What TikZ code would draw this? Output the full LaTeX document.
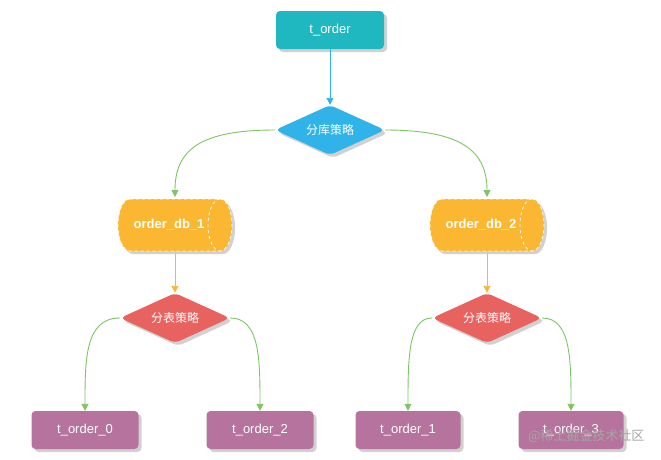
\documentclass[tikz,border=0pt]{standalone}
\usepackage{fontspec}
\setmainfont{Liberation Sans}
\newfontfamily\cjk{Noto Sans CJK SC}
\usetikzlibrary{shapes.geometric,arrows.meta,shadows}
\definecolor{cteal}{HTML}{1FB8C0}
\definecolor{cblue}{HTML}{2FB3E8}
\definecolor{corange}{HTML}{FBB731}
\definecolor{cred}{HTML}{E8635F}
\definecolor{cpurp}{HTML}{B5739D}
\definecolor{cgreen}{HTML}{7DC464}
\tikzset{
 shad/.style={drop shadow={shadow xshift=3pt,shadow yshift=-3pt,fill=black!30,opacity=.6}},
 boxn/.style={rounded corners=4pt,minimum width=#1,minimum height=38pt,text=white,font=\fontsize{13}{15}\selectfont,inner sep=0pt},
 dia/.style={diamond,aspect=2.2,minimum width=110pt,minimum height=50pt,inner sep=0pt,rounded corners=5pt,text=white,font=\cjk\fontsize{12}{14}\selectfont},
 cyltxt/.style={text=white,font=\bfseries\fontsize{13}{15}\selectfont,inner sep=0pt,minimum width=114pt,minimum height=52pt},
 garr/.style={draw=cgreen,line width=0.9pt,-{Triangle[length=7pt,width=7pt]}},
 oarr/.style={draw=corange,line width=0.9pt,-{Triangle[length=7pt,width=7pt]}},
}
\newcommand{\mycyl}[2]{%
 \fill[black!30,opacity=.6,shift={(3,3)}] (#1-45,199) -- (#1+45,199) arc[start angle=-90,end angle=90,x radius=12,y radius=26] -- (#1-45,251) arc[start angle=90,end angle=270,x radius=12,y radius=26] -- cycle;
 \fill[corange] (#1-45,199) -- (#1+45,199) arc[start angle=-90,end angle=90,x radius=12,y radius=26] -- (#1-45,251) arc[start angle=90,end angle=270,x radius=12,y radius=26] -- cycle;
 \draw[white,dashed,line width=0.7pt] (#1-45,199) -- (#1+45,199) arc[start angle=-90,end angle=90,x radius=12,y radius=26] -- (#1-45,251) arc[start angle=90,end angle=270,x radius=12,y radius=26] -- cycle;
 \draw[white,dashed,line width=0.7pt] (#1+45,199) arc[start angle=-90,end angle=-270,x radius=12,y radius=26];
}
\begin{document}
\begin{tikzpicture}[x=1pt,y=-1pt]
\useasboundingbox (0,0) rectangle (661,459);
\mycyl{175}{}
\mycyl{487}{}
\node[cyltxt,xshift=-6pt] (db1) at (175,225) {order\_db\_1};
\node[cyltxt,xshift=-6pt] (db2) at (487,225) {order\_db\_2};
\node[boxn=108pt,fill=cteal,shad] (top) at (330,30) {t\_order};
\node[dia,fill=cblue,shad] (d0) at (330,130) {分库策略};
\node[dia,fill=cred,shad] (d1) at (175,318) {分表策略};
\node[dia,fill=cred,shad] (d2) at (487,318) {分表策略};
\node[boxn=107pt,fill=cpurp,shad] (b0) at (85,430) {t\_order\_0};
\node[boxn=107pt,fill=cpurp,shad] (b2) at (260,430) {t\_order\_2};
\node[boxn=105pt,fill=cpurp,shad] (b1) at (408,430) {t\_order\_1};
\node[boxn=105pt,fill=cpurp,shad] (b3) at (571,430) {t\_order\_3};
\coordinate (c1) at (175,197);
\coordinate (c2) at (487,197);
\coordinate (c1b) at (175,253);
\coordinate (c2b) at (487,253);
\draw[line width=0.9pt,draw=cblue,-{Triangle[length=7pt,width=7pt]}] (top.south) -- (d0.north);
\draw[garr] (d0.west) .. controls (200,130) and (175,150) .. (c1);
\draw[garr] (d0.east) .. controls (460,130) and (487,150) .. (c2);
\draw[oarr] (c1b) -- (d1.north);
\draw[oarr] (c2b) -- (d2.north);
\draw[garr] (d1.west) .. controls (85,318) and (85,360) .. (b0.north);
\draw[garr] (d1.east) .. controls (260,318) and (260,360) .. (b2.north);
\draw[garr] (d2.west) .. controls (408,318) and (408,360) .. (b1.north);
\draw[garr] (d2.east) .. controls (571,318) and (571,360) .. (b3.north);
\node[text=black!35,font=\cjk\fontsize{13}{15}\selectfont,anchor=east] (wm) at (648,436) {@稀土掘金技术社区};
\end{tikzpicture}
\end{document}
